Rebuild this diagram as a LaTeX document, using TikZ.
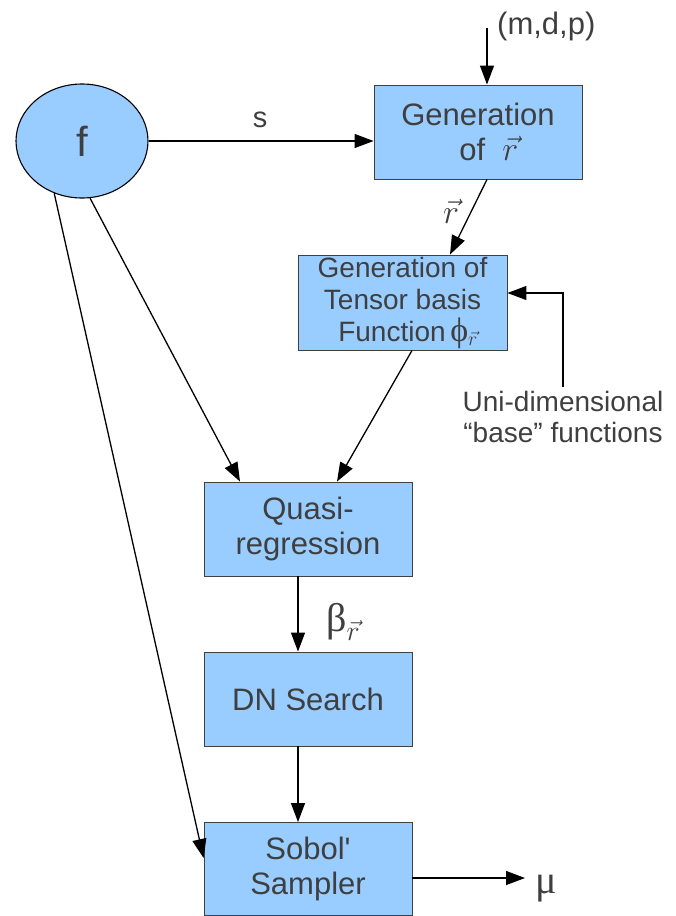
\documentclass[tikz,border=0pt]{standalone}
\usepackage{fix-cm}
\usepackage{fontspec}
\setmainfont{Liberation Sans}
\newfontfamily\grk{Liberation Serif}
\usetikzlibrary{arrows.meta,calc,shapes.geometric}
\definecolor{boxfill}{HTML}{99CCFF}
\definecolor{txt}{HTML}{3F3F3F}
\begin{document}
\begin{tikzpicture}[x=1pt,y=-1pt,
  blk/.style={draw=black!75, line width=0.9pt, fill=boxfill, text=txt, minimum width=208pt, minimum height=94pt, align=center, inner sep=0pt, font=\fontsize{31}{35}\selectfont},
  arr/.style={-{Triangle[length=19pt,width=14pt]}, line width=1.3pt},
  lbl/.style={text=txt, inner sep=0pt, font=\fontsize{31}{35}\selectfont}]
\useasboundingbox (0,0) rectangle (675,916);
% nodes
\node[ellipse, draw=black, line width=1.1pt, fill=boxfill, minimum width=132pt, minimum height=114pt, inner sep=0pt, text=txt, font=\fontsize{42}{42}\selectfont] (f) at (82,141) {f};
\node[blk] (gen) at (478,132) {Generation\\\hspace*{0.7em}of\;\;{\fontsize{34}{35}\selectfont$\vec{r}$}};
\node[blk, font=\fontsize{28}{32}\selectfont, minimum width=209pt, minimum height=95pt] (tensor) at (402.5,302.5) {Generation of\\Tensor basis\\\hspace*{0.4em}Function\,{\grk\fontsize{34}{32}\selectfont ϕ}$_{\vec r}$};
\node[blk] (quasi) at (308,529) {Quasi-\\regression};
\node[blk] (dn) at (308,699) {DN Search};
\node[blk, minimum height=93pt] (sobol) at (308,869) {Sobol\textquotesingle\\Sampler};
% labels
\node[lbl, anchor=west] (mdp) at (497,26) {(m,d,p)};
\node[lbl, font=\fontsize{29}{29}\selectfont] (s) at (260,120) {s};
\node[lbl, font=\fontsize{34}{35}\selectfont] (rlab) at (451,211) {$\vec r$};
\node[lbl, font=\fontsize{40}{40}\selectfont] (beta) at (343,622) {{\grk β}\raisebox{-9pt}{\fontsize{28}{28}\selectfont$\vec r$}};
\node[lbl, font=\fontsize{40}{40}\selectfont] (mu) at (546,889) {{\grk μ}};
\node[lbl, font=\fontsize{28}{31}\selectfont, align=center] (uni) at (563,417) {Uni-dimensional\\“base” functions};
% coordinates
\coordinate (mdpc) at (487,28);
\coordinate (unitop) at (563,387);
\coordinate (muend) at (525,878);
% connectors
\draw[arr] (mdpc) -- (mdpc |- gen.north);
\draw[arr] (f.east) -- (f.east -| gen.west);
\draw[arr] ($(gen.south)+(9,0)$) -- ($(tensor.north)+(47.5,0)$);
\draw[arr] (unitop) |- ($(tensor.east)+(0,-9.5)$);
\draw[arr] ($(tensor.south)+(9.5,0)$) -- ($(quasi.north)+(29,0)$);
\draw[arr] (f.-82) -- ($(quasi.north)+(-68,0)$);
\draw[arr] (f.-118) -- ($(sobol.west)+(0,-11)$);
\draw[arr] ($(quasi.south)+(-10,0)$) -- ($(dn.north)+(-10,0)$);
\draw[arr] ($(dn.south)+(-10,0)$) -- ($(sobol.north)+(-10,0)$);
\draw[arr] (sobol.east |- muend) -- (muend);
\end{tikzpicture}
\end{document}
